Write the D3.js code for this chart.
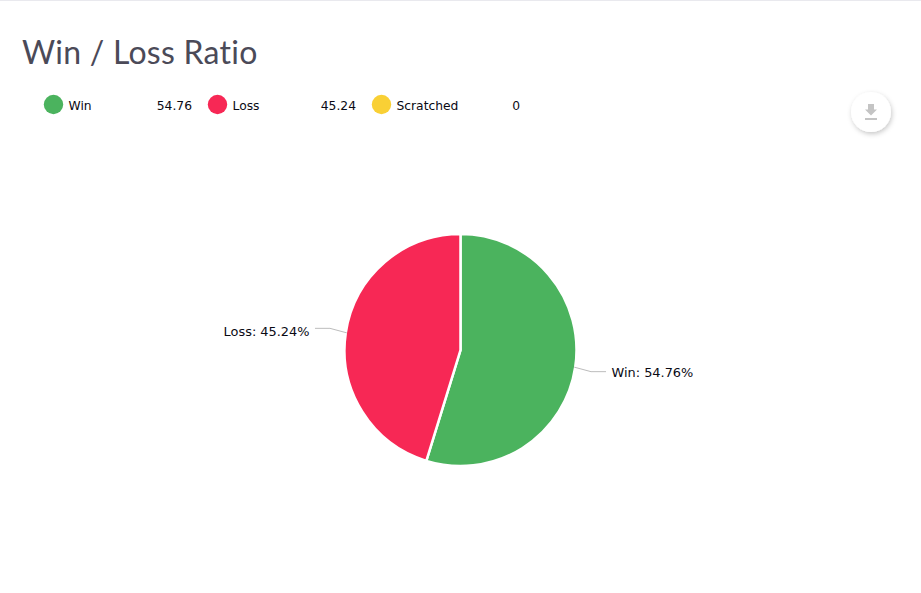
<!DOCTYPE html>
<html><head><meta charset="utf-8">
<script src="https://cdn.jsdelivr.net/npm/d3@7"></script>
<style>html,body{margin:0;padding:0;background:#fff}svg{display:block}</style>
</head><body><svg id="c" width="921" height="593"></svg>
<script>
const categories = ["Win","Loss","Scratched"];
const values = [54.76,45.24,0];
const legendLabels = ["54.76","45.24","0"];
const colors = ["#4bb35e","#f72855","#f9d035"];
const title = "Win / Loss Ratio";

const svg = d3.select("#c");
svg.append("rect").attr("width",921).attr("height",1).attr("fill","#e9e9ee");
svg.append("text").attr("x",22).attr("y",63.5).attr("font-family","Lato, 'Noto Sans', sans-serif")
  .attr("font-size",32).attr("fill","#4b4a58").style("font-variant-ligatures","none")
  .attr("letter-spacing",0.25).text(title);

const legendX = d3.scaleOrdinal().domain(categories).range([44,208,372]);
const valueEnd = d3.scaleOrdinal().domain(categories).range([192,356,520]);
const lg = svg.append("g").attr("font-family","'DejaVu Sans', sans-serif").attr("font-size",12.3).attr("fill","#0a0a14");
categories.forEach((c,i)=>{
  lg.append("circle").attr("cx",legendX(c)+9.5).attr("cy",104.5).attr("r",9.7).attr("fill",colors[i]);
  lg.append("text").attr("x",legendX(c)+24.5).attr("y",110).text(c);
  lg.append("text").attr("x",valueEnd(c)).attr("y",110).attr("text-anchor","end").text(legendLabels[i]);
});

// download button
const defs = svg.append("defs");
const f = defs.append("filter").attr("id","sh").attr("x","-50%").attr("y","-50%").attr("width","200%").attr("height","200%");
f.append("feDropShadow").attr("dx",1).attr("dy",2).attr("stdDeviation",2.5).attr("flood-color","#000").attr("flood-opacity",0.22);
const b = svg.append("g").attr("transform","translate(871,112)");
b.append("circle").attr("r",20).attr("fill","#fff").attr("filter","url(#sh)");
b.append("path").attr("d","M-3,-8H3V-2.5H6L0,3.5L-6,-2.5H-3Z").attr("fill","#c4c4c4");
b.append("rect").attr("x",-6).attr("y",6).attr("width",12).attr("height",2).attr("fill","#c4c4c4");

// pie
const cx=460.5, cy=350, R=116;
const pie = d3.pie().sort(null).value(d=>d);
const arcs = pie(values);
const arc = d3.arc().innerRadius(0).outerRadius(R);
const g = svg.append("g").attr("transform",`translate(${cx},${cy})`);
g.selectAll("path.s").data(arcs.filter(d=>d.value>0)).join("path").attr("class","s")
  .attr("d",arc).attr("fill",d=>colors[d.index]).attr("stroke","#fff").attr("stroke-width",2.5);

const line = d3.line();
arcs.filter(d=>d.value>0).forEach(d=>{
  const a=(d.startAngle+d.endAngle)/2, sx=Math.sin(a), cy0=-Math.cos(a), side=sx>0?1:-1;
  const p0=[sx*(R-1),cy0*(R-1)], p1=[sx*(R+16),cy0*(R+16)+(cy0>0?2:-2)], p2=[p1[0]+side*15,p1[1]];
  g.append("path").attr("d",line([p0,p1,p2])).attr("fill","none").attr("stroke","#bcbcbc").attr("stroke-width",1);
  g.append("text").attr("x",p2[0]+side*5.5).attr("y",p2[1]+(side>0?5:7.5))
    .attr("text-anchor",side>0?"start":"end").attr("font-family","'DejaVu Sans', sans-serif")
    .attr("font-size",12.9).attr("fill","#0a0a14").text(`${categories[d.index]}: ${d.value}%`);
});
</script></body></html>
